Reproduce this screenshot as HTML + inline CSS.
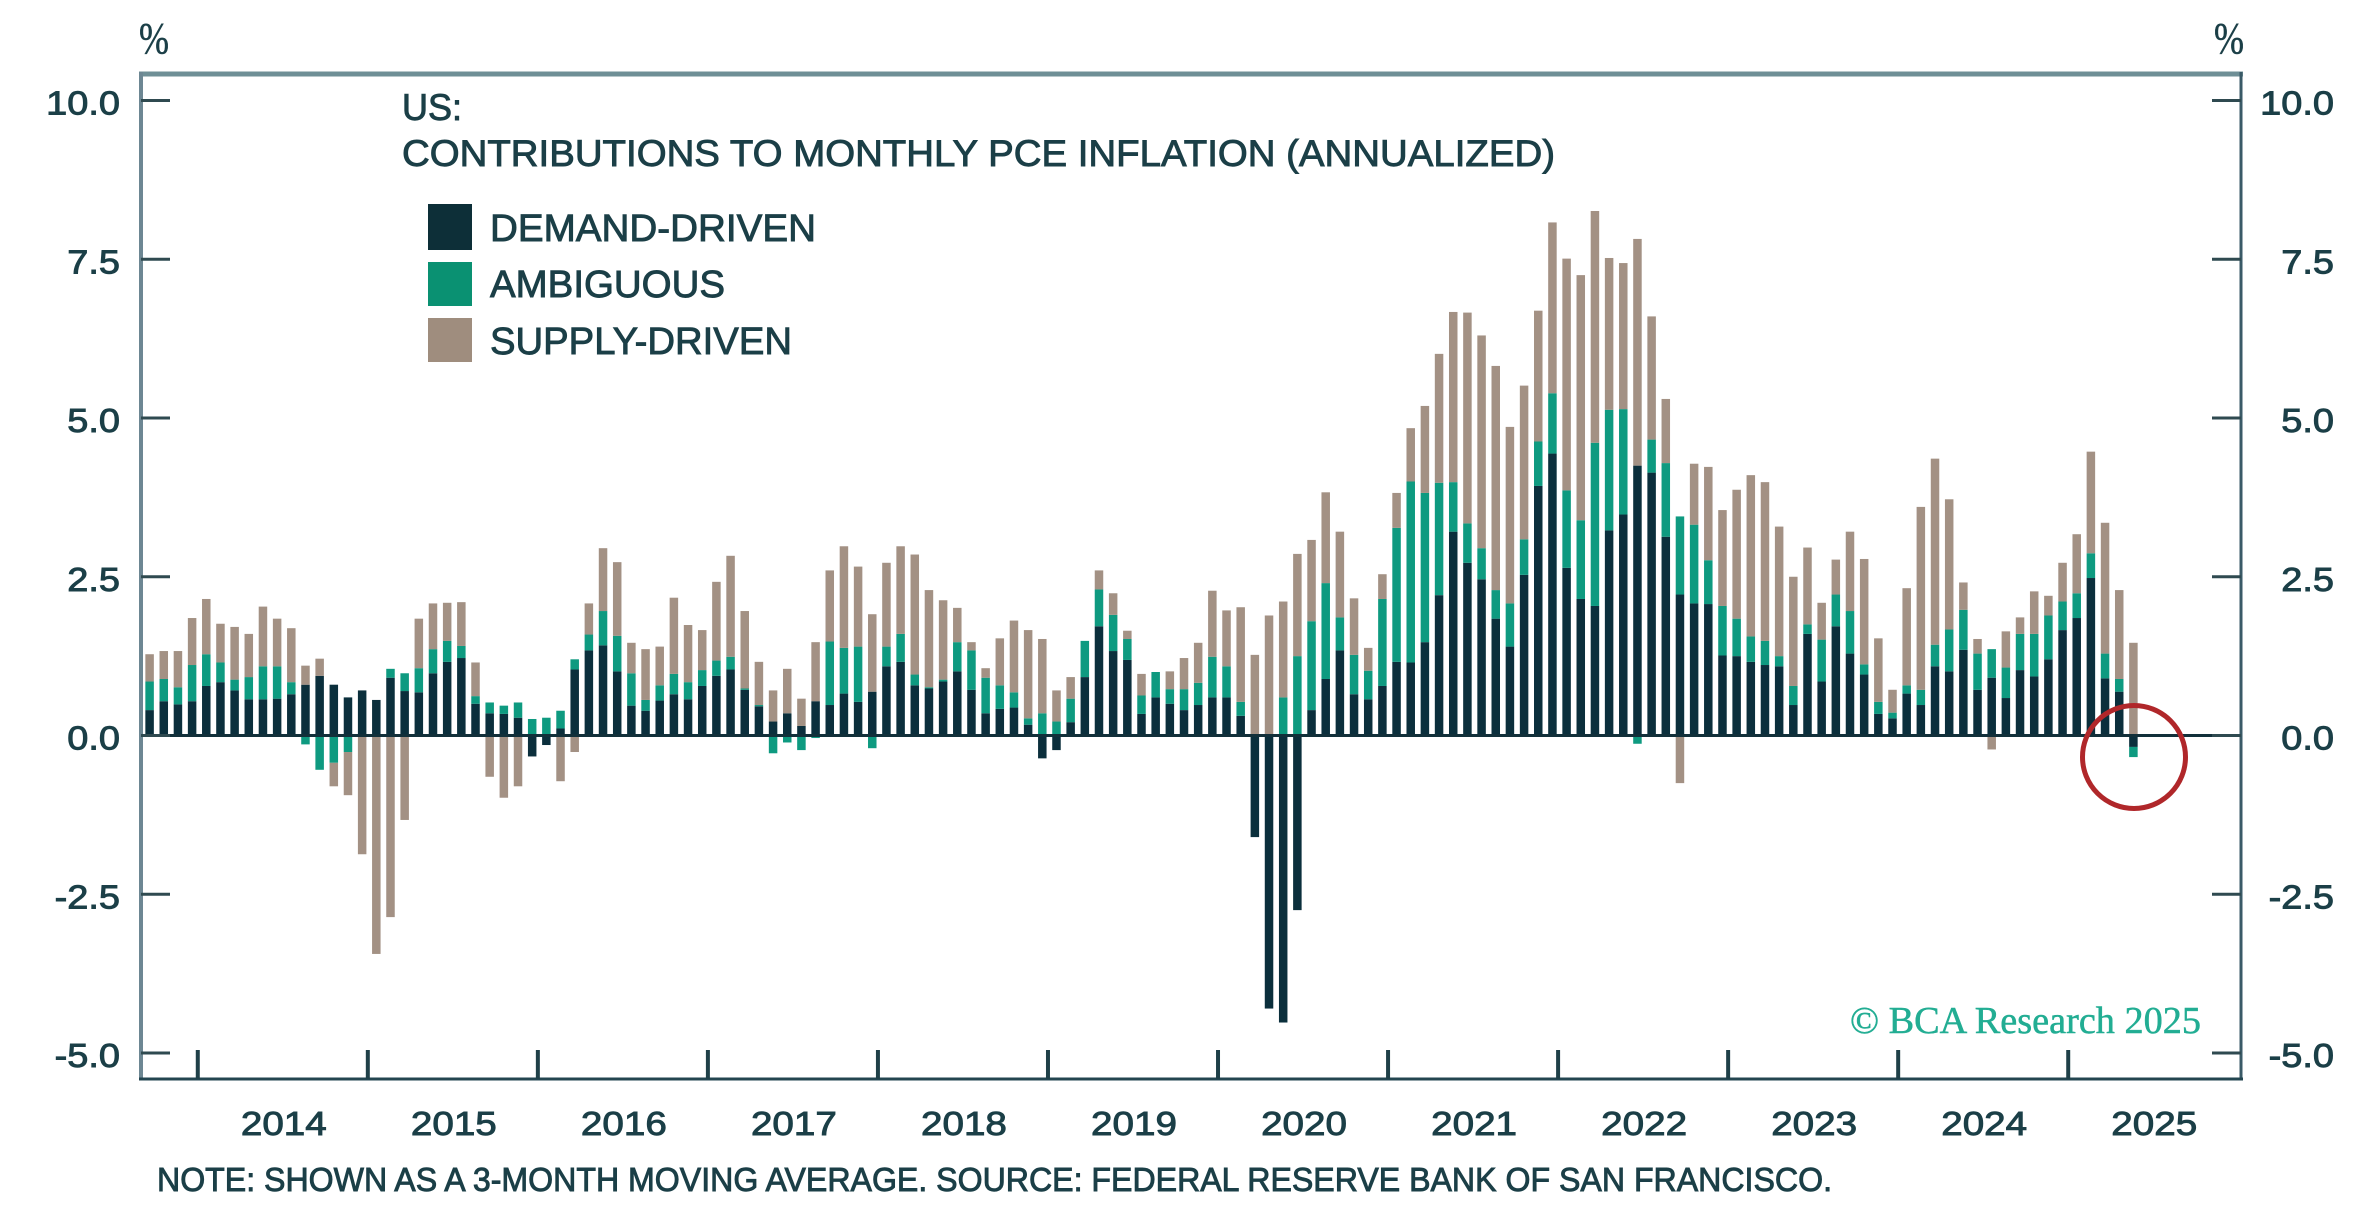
<!DOCTYPE html>
<html lang="en">
<head>
<meta charset="utf-8">
<title>US: Contributions to Monthly PCE Inflation</title>
<style>
  html,body{margin:0;padding:0;background:#fff;width:2360px;height:1224px;overflow:hidden}
  svg{display:block}
  text{font-family:"Liberation Sans",sans-serif;fill:#1b3f47}
  .lbl{stroke:#1b3f47;stroke-width:.9px}
</style>
</head>
<body>
<svg id="chart" xmlns="http://www.w3.org/2000/svg" width="2360" height="1224" viewBox="0 0 2360 1224">
  <rect x="0" y="0" width="2360" height="1224" fill="#ffffff"/>
  <g id="bars"></g>
  <line x1="141" y1="735.5" x2="2241" y2="735.5" stroke="#12303a" stroke-width="3"/>
  <g id="axes">
    <line x1="139" y1="74" x2="2243" y2="74" stroke="#6f8f96" stroke-width="5"/>
    <line x1="141" y1="72" x2="141" y2="1080" stroke="#6d8793" stroke-width="4"/>
    <line x1="2241" y1="72" x2="2241" y2="1080" stroke="#3a5a67" stroke-width="3"/>
    <line x1="139" y1="1079" x2="2243" y2="1079" stroke="#234550" stroke-width="3"/>
  </g>
  <text x="139" y="53" textLength="30" lengthAdjust="spacingAndGlyphs" style="font-family:'Liberation Serif',serif;font-size:44px;stroke:#1b3f47;stroke-width:.5px">%</text>
  <text x="2214" y="53" textLength="30" lengthAdjust="spacingAndGlyphs" style="font-family:'Liberation Serif',serif;font-size:44px;stroke:#1b3f47;stroke-width:.5px">%</text>
  <text class="lbl" x="402" y="120" font-size="37" textLength="60" lengthAdjust="spacingAndGlyphs">US:</text>
  <text class="lbl" x="402" y="166" font-size="37" textLength="1153" lengthAdjust="spacingAndGlyphs">CONTRIBUTIONS TO MONTHLY PCE INFLATION (ANNUALIZED)</text>
  <g>
    <rect x="428" y="204" width="44" height="46" fill="#0d2f38"/>
    <text class="lbl" x="490" y="241" font-size="38" textLength="326" lengthAdjust="spacingAndGlyphs">DEMAND-DRIVEN</text>
    <rect x="428" y="262" width="44" height="44" fill="#0a9172"/>
    <text class="lbl" x="490" y="297" font-size="38" textLength="235" lengthAdjust="spacingAndGlyphs">AMBIGUOUS</text>
    <rect x="428" y="318" width="44" height="44" fill="#9f8d7e"/>
    <text class="lbl" x="490" y="354" font-size="38" textLength="302" lengthAdjust="spacingAndGlyphs">SUPPLY-DRIVEN</text>
  </g>
  <text x="1850" y="1033" textLength="351" lengthAdjust="spacingAndGlyphs" style="font-family:'Liberation Serif',serif;font-size:38px;fill:#22ad93;stroke:#22ad93;stroke-width:.5px">© BCA Research 2025</text>
  <text class="lbl" x="157" y="1191" font-size="33" textLength="1675" lengthAdjust="spacingAndGlyphs">NOTE: SHOWN AS A 3-MONTH MOVING AVERAGE. SOURCE: FEDERAL RESERVE BANK OF SAN FRANCISCO.</text>
  <circle cx="2134" cy="757" r="51.5" fill="none" stroke="#b0272a" stroke-width="5"/>
</svg>
<script>
var demand = [.40,.54,.49,.54,.78,.84,.71,.57,.57,.58,.65,.80,.94,.80,.60,.71,.56,.91,.70,.68,
.98,1.16,1.22,.50,.35,.34,.28,-.33,-.15,.11,1.04,1.34,1.42,1.01,.47,.39,.55,.65,.57,.78,
.94,1.04,.72,.46,.22,.35,.15,.54,.48,.66,.53,.69,1.09,1.16,.79,.74,.85,1.01,.72,.35,
.42,.44,.17,-.36,-.23,.21,.92,1.72,1.33,1.19,.34,.60,.50,.40,.48,.60,.60,.31,-1.60,-4.30,
-4.52,-2.75,.40,.89,1.34,.65,.57,.78,1.16,1.15,1.47,2.21,3.21,2.72,2.46,1.84,1.40,2.53,3.93,4.44,
2.64,2.15,2.04,3.23,3.48,4.25,4.14,3.13,2.22,2.08,2.07,1.26,1.25,1.16,1.11,1.09,.48,1.60,.85,1.72,
1.29,.96,.34,.27,.66,.48,1.09,1.01,1.35,.72,.91,.59,1.03,.93,1.20,1.66,1.85,2.48,.90,.69,-.18];
var ambiguous = [.45,.35,.27,.57,.50,.31,.17,.35,.52,.51,.19,-.14,-.54,-.43,-.26,0,0,.14,.28,.38,
.38,.33,.19,.12,.17,.13,.24,.26,.28,.28,.16,.25,.54,.56,.51,.17,.24,.32,.27,.25,
.24,.20,.02,.02,-.28,-.11,-.23,-.04,1.00,.72,.87,-.20,.31,.44,.17,.02,.03,.46,.62,.56,
.37,.24,.10,.35,.22,.37,.57,.58,.57,.33,.29,.40,.23,.33,.35,.64,.49,.22,0,0,
.60,1.25,1.40,1.51,.52,.62,.45,1.37,2.11,2.85,2.35,1.77,.78,.62,.49,.45,.68,.56,.70,.95,
1.22,1.24,2.57,1.90,1.66,-.13,.52,1.16,1.23,1.24,.69,.78,.59,.40,.38,.16,.30,.15,.66,.50,
.67,.16,.19,.09,.13,.24,.34,.66,.63,.57,.45,.48,.57,.67,.69,.45,.39,.39,.39,.20,-.16];
var supply = [.43,.44,.57,.74,.87,.61,.83,.68,.94,.75,.85,.30,.27,-.37,-.68,-1.87,-3.44,-2.86,-1.33,.78,
.72,.60,.69,.53,-.65,-.98,-.80,0,0,-.72,-.26,.49,.99,1.16,.48,.80,.61,1.20,.90,.63,
1.24,1.59,1.22,.68,.49,.70,.43,.93,1.12,1.60,1.26,1.22,1.32,1.38,1.89,1.53,1.25,.54,.13,.15,
.74,1.13,1.39,1.17,.49,.34,0,.30,.34,.13,.34,0,.28,.49,.63,1.04,.88,1.49,1.27,1.89,
1.51,1.61,1.28,1.43,1.35,.89,.36,.39,.55,.84,1.37,2.03,2.68,3.32,3.35,3.53,2.78,2.42,2.06,2.69,
3.65,3.86,3.65,2.39,2.30,3.57,1.94,1.01,-.75,.96,1.47,1.51,2.03,2.54,2.50,2.04,1.72,1.21,.58,.55,
1.25,1.66,1.00,.36,1.53,2.88,2.93,2.05,.43,.23,-.22,.57,.26,.67,.31,.61,.93,1.60,2.06,1.40,1.46];
var yTickValues = [10, 7.5, 5, 2.5, 0, -2.5, -5];
var yTickLabels = ["10.0", "7.5", "5.0", "2.5", "0.0", "-2.5", "-5.0"];
var yearLabels = ["2014","2015","2016","2017","2018","2019","2020","2021","2022","2023","2024","2025"];

var NS = "http://www.w3.org/2000/svg";
var barsGroup = document.getElementById("bars");
var axesGroup = document.getElementById("axes");
var chart = document.getElementById("chart");
var BAR_W = 8.5;
function yScale(v){ return 735.5 - 63.5 * v; }
function xScale(i){ return 149.6 + 14.17 * i; }
function make(tag, attrs){
  var el = document.createElementNS(NS, tag);
  for (var k in attrs) el.setAttribute(k, attrs[k]);
  return el;
}
var seriesList = [
  {key:"demand", values:demand, color:"#0b2f3c"},
  {key:"ambiguous", values:ambiguous, color:"#0e9a80"},
  {key:"supply", values:supply, color:"#a39184"}
];
for (var i = 0; i < demand.length; i++) {
  var up = 0, down = 0;
  for (var s = 0; s < seriesList.length; s++) {
    var v = seriesList[s].values[i];
    if (!v) continue;
    var from = v > 0 ? up : down;
    var to = from + v;
    if (v > 0) up = to; else down = to;
    var r = make("rect", {
      x: xScale(i) - BAR_W / 2,
      y: Math.min(yScale(from), yScale(to)),
      width: BAR_W,
      height: Math.abs(yScale(to) - yScale(from)),
      fill: seriesList[s].color
    });
    
    
    barsGroup.appendChild(r);
  }
}
function widen(t, factor){
  var w = t.getComputedTextLength();
  t.setAttribute("textLength", w * factor);
  t.setAttribute("lengthAdjust", "spacingAndGlyphs");
}
yTickValues.forEach(function(v, idx){
  var y = yScale(v);
  var tl = make("line", {x1:141, x2:170, y1:y, y2:y, stroke:"#2f4a50", "stroke-width":3});
  
  
  axesGroup.appendChild(tl);
  var tr = make("line", {x1:2212, x2:2241, y1:y, y2:y, stroke:"#2f4a50", "stroke-width":3});
  
  
  axesGroup.appendChild(tr);
  var a = make("text", {x:120, y:y + 14, "text-anchor":"end", "font-size":33, "class":"lbl"});
  a.textContent = yTickLabels[idx];
  
  
  chart.appendChild(a);
  widen(a, 1.15);
  var b = make("text", {x:2334, y:y + 14, "text-anchor":"end", "font-size":33, "class":"lbl"});
  b.textContent = yTickLabels[idx];
  
  
  chart.appendChild(b);
  widen(b, 1.15);
});
yearLabels.forEach(function(label, k){
  var tx = xScale(3.4 + 12 * k);
  if (k < 12) {
    var t = make("line", {x1:tx, x2:tx, y1:1050, y2:1079, stroke:"#1f4048", "stroke-width":4});
    
    
    axesGroup.appendChild(t);
  }
  var l = make("text", {x:xScale(9.4 + 12 * k) + 1, y:1135, "text-anchor":"middle", "font-size":33, "class":"lbl"});
  l.textContent = label;
  
  
  chart.appendChild(l);
  widen(l, 1.17);
});
</script>
</body>
</html>
